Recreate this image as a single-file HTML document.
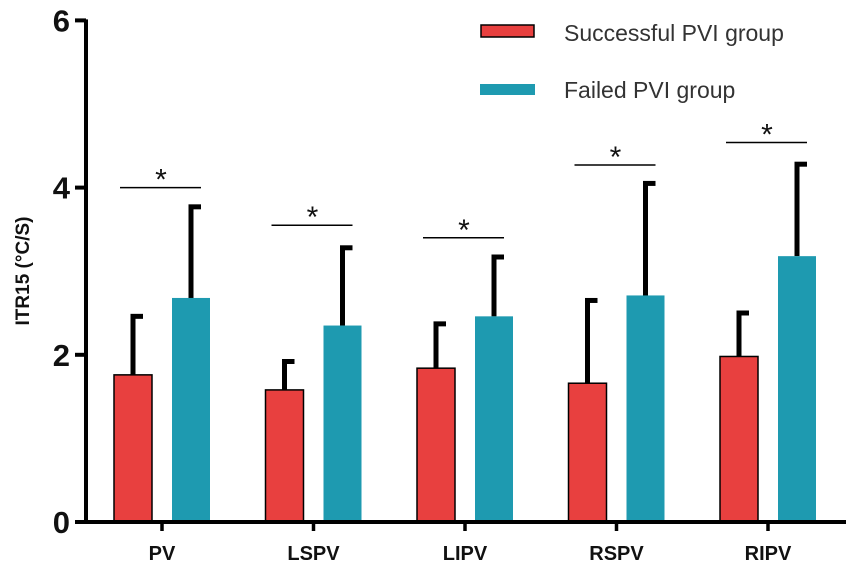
<!DOCTYPE html>
<html><head><meta charset="utf-8"><style>
html,body{margin:0;padding:0;background:#fff;}
svg{display:block;font-family:"Liberation Sans",Arial,sans-serif;}
</style></head><body>
<svg id="chart" width="856" height="586" viewBox="0 0 856 586"></svg>
<script>
const categories = ["PV","LSPV","LIPV","RSPV","RIPV"];
const successMean = [1.76, 1.58, 1.84, 1.66, 1.98];
const successErr = [2.46, 1.92, 2.37, 2.65, 2.50];
const failedMean = [2.68, 2.35, 2.46, 2.71, 3.18];
const failedErr = [3.77, 3.28, 3.17, 4.05, 4.28];
const sigLevels = [4.0, 3.55, 3.4, 4.27, 4.54];
const yTicks = [0, 2, 4, 6];

const NS = "http://www.w3.org/2000/svg";
const svg = document.getElementById("chart");
const y0 = 522, perUnit = 83.6;
function yScale(v){ return y0 - v*perUnit; }
function xCenter(i){ return 162 + i*151.5; }
function el(tag, attrs, parent){
  const e = document.createElementNS(NS, tag);
  for (const k in attrs) e.setAttribute(k, attrs[k]);
  (parent||svg).appendChild(e);
  return e;
}
const RED="#e8403f", TEAL="#1e9ab0";

// bars
categories.forEach((c,i)=>{
  const cx = xCenter(i);
  const g = el("g",{});
  
  
  [[successMean[i],successErr[i],cx-29,RED,'success'],[failedMean[i],failedErr[i],cx+29,TEAL,'failed']].forEach(([m,e,bx,col,name])=>{
    const eb = el("g",{},g);
    
    
    el("line",{x1:bx,x2:bx,y1:yScale(m),y2:yScale(e),stroke:"#000","stroke-width":5},eb);
    el("line",{x1:bx-2.5,x2:bx+10,y1:yScale(e),y2:yScale(e),stroke:"#000","stroke-width":5},eb);
    const r = el("rect",{x:bx-19,y:yScale(m),width:38,height:y0-yScale(m),fill:col,stroke:name==='success'?"#000":"none","stroke-width":1.5},g);
    
    
  });
  // significance
  const sy = yScale(sigLevels[i]);
  const sl = el("line",{x1:cx-42,x2:cx+39,y1:sy,y2:sy,stroke:"#000","stroke-width":1.5},g);
  
  
  const st = el("text",{x:cx-1,y:sy+2,"text-anchor":"middle","font-size":30,fill:"#111"},g);
  st.textContent="*";
  
  
  // category tick & label
  el("line",{x1:cx,x2:cx,y1:y0,y2:531,stroke:"#000","stroke-width":3.5},g);
  const lt = el("text",{x:cx,y:560,"text-anchor":"middle","font-size":20,"font-weight":"bold",fill:"#111"},g);
  lt.textContent=c;
  
  
});

// axes
const ya = el("line",{x1:86,x2:86,y1:yScale(6)-1,y2:y0+2,stroke:"#000","stroke-width":4});


const xa = el("line",{x1:84,x2:846,y1:y0,y2:y0,stroke:"#000","stroke-width":4});


yTicks.forEach(t=>{
  const y = yScale(t);
  el("line",{x1:75,x2:86,y1:y,y2:y,stroke:"#000","stroke-width":4});
  const tx = el("text",{x:70,y:y+11,"text-anchor":"end","font-size":31,"font-weight":"bold",fill:"#111"});
  tx.textContent=t;
  
  
});
const yt = el("text",{x:0,y:0,transform:"translate(29,271) rotate(-90)","text-anchor":"middle","font-size":19,"font-weight":"bold",fill:"#111"});
yt.textContent="ITR15 (°C/S)";



// legend
const lg = el("g",{});


const l1 = el("rect",{x:481,y:25,width:53,height:12,fill:RED,stroke:"#000","stroke-width":1.5},lg);


const t1 = el("text",{x:564,y:41,"font-size":23,fill:"#333"},lg);
t1.textContent="Successful PVI group";


const l2 = el("rect",{x:480,y:84,width:55,height:11,fill:TEAL},lg);


const t2 = el("text",{x:564,y:98,"font-size":23,fill:"#333"},lg);
t2.textContent="Failed PVI group";


</script>
</body></html>
